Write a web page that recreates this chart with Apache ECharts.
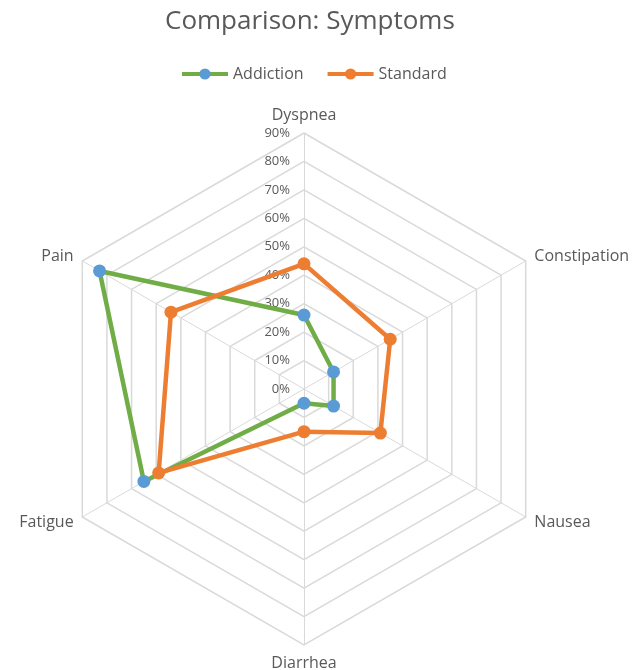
<!DOCTYPE html>
<html>
<head>
<meta charset="utf-8">
<script src="https://cdn.jsdelivr.net/npm/echarts@6/dist/echarts.min.js"></script>
<style>
  html, body { margin: 0; padding: 0; background: #fff; }
</style>
</head>
<body>
<div id="main" style="width: 641px; height: 670px;"></div>
<script>
  // symptom axes, listed counter-clockwise from the top (echarts radar order)
  var symptoms = ["Dyspnea", "Pain", "Fatigue", "Diarrhea", "Nausea", "Constipation"];
  var addiction = [0.26, 0.83, 0.65, 0.05, 0.12, 0.12];
  var standard = [0.44, 0.54, 0.59, 0.15, 0.31, 0.35];
  var scaleMax = 0.9;

  var myChart = echarts.init(document.getElementById("main"));

  var textColor = "#595959";
  var gridColor = "#d9d9d9";
  var green = "#70ad47", blue = "#5b9bd5", orange = "#ed7d31";

  var indicators = symptoms.map(function (name, i) {
    var ind = { name: name, min: 0, max: scaleMax };
    // only the top axis carries the percent labels
    if (i === 0) {
      ind.axisLabel = {
        show: true,
        color: textColor,
        fontSize: 13,
        margin: 14,
        fontFamily: "Open Sans",
        formatter: function (v) { return Math.round(v * 100) + "%"; }
      };
    }
    return ind;
  });

  var option = {
    title: {
      text: "Comparison: Symptoms",
      left: 160,
      top: 4,
      textStyle: { color: textColor, fontSize: 26, fontWeight: "normal", fontFamily: "Open Sans" }
    },
    legend: {
      top: 61,
      left: 175,
      itemWidth: 46,
      itemHeight: 14,
      itemGap: 22,
      lineStyle: { width: 4 },
      textStyle: { color: textColor, fontSize: 16, fontFamily: "Open Sans" },
      data: ["Addiction", "Standard"]
    },
    // empty cartesian just so the legend gets line+marker icons
    grid: { show: false, left: 0, top: 0, width: 1, height: 1 },
    xAxis: { show: false, type: "category", data: [] },
    yAxis: { show: false },
    radar: {
      center: [304, 389],
      radius: 256,
      startAngle: 90,
      shape: "polygon",
      splitNumber: 9,
      indicator: indicators,
      axisName: { color: textColor, fontSize: 16, fontFamily: "Open Sans" },
      nameGap: 10,
      axisLine: { lineStyle: { color: gridColor, width: 1 } },
      splitLine: { lineStyle: { color: gridColor, width: 1.5 } },
      splitArea: { show: false },
      axisLabel: { show: false }
    },
    series: [
      {
        name: "Addiction",
        type: "line",
        data: [],
        symbol: "circle",
        symbolSize: 13,
        lineStyle: { color: green, width: 4.5 },
        itemStyle: { color: blue }
      },
      {
        name: "Standard",
        type: "line",
        data: [],
        symbol: "circle",
        symbolSize: 13,
        lineStyle: { color: orange, width: 4.5 },
        itemStyle: { color: orange }
      },
      {
        type: "radar",
        data: [
          {
            name: "Addiction",
            value: addiction,
            symbol: "circle",
            symbolSize: 13,
            lineStyle: { color: green, width: 4.5 },
            itemStyle: { color: blue }
          },
          {
            name: "Standard",
            value: standard,
            symbol: "circle",
            symbolSize: 13,
            lineStyle: { color: orange, width: 4.5 },
            itemStyle: { color: orange }
          }
        ]
      }
    ]
  };

  myChart.setOption(option);
</script>
</body>
</html>
